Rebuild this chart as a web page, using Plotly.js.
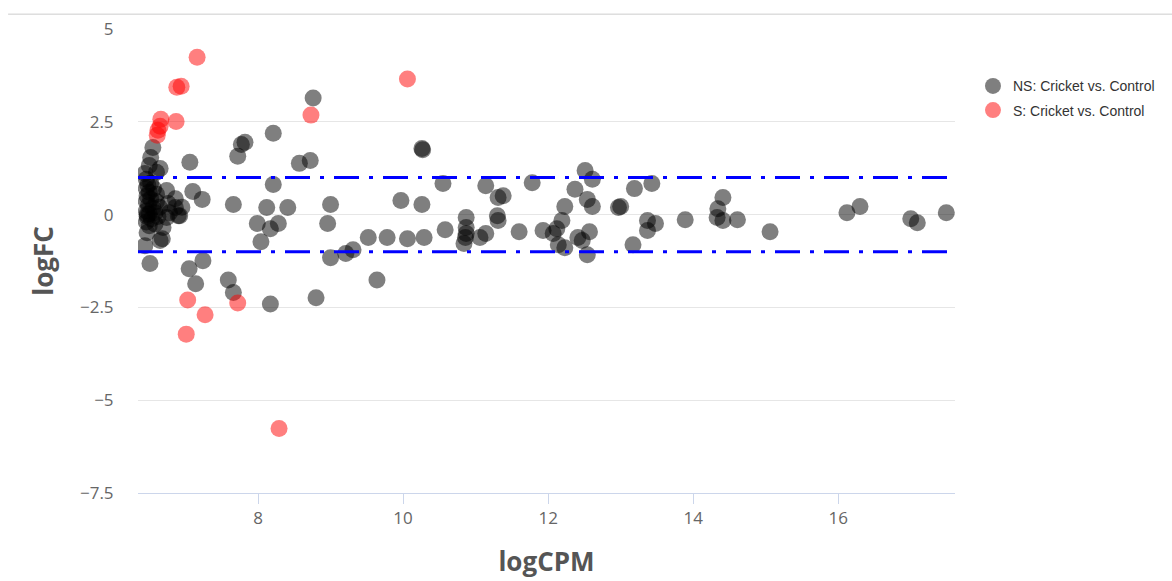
<!DOCTYPE html>
<html>
<head>
<meta charset="utf-8">
<script src="https://cdn.plot.ly/plotly-3.0.1.min.js"></script>
<style>html,body{margin:0;padding:0;background:#fff;}#chart{width:1172px;height:581px;}</style>
</head>
<body>
<div id="chart"></div>
<script>
// NS: Cricket vs. Control (non-significant)
var nsLogCPM = [
  8.76, 8.21, 7.82, 7.77, 7.72, 7.06, 8.57, 8.72, 6.55, 6.52, 6.50, 6.65, 6.44, 6.60,
  8.21, 7.10, 7.23, 7.66, 8.12, 8.41, 9.00, 6.74, 6.86, 7.99, 8.17, 8.28, 8.04, 8.96,
  9.00, 6.51, 7.24, 7.05, 7.14, 7.59, 7.66, 8.17, 8.80,
  6.90, 6.47, 6.65, 6.44, 6.76, 6.86, 6.92, 6.74, 6.69, 6.68, 6.78, 6.95,
  6.46, 6.48, 6.46, 6.50, 6.47, 6.52, 6.46, 6.49, 6.55, 6.46, 6.50, 6.47, 6.53, 6.46,
  6.58, 6.60, 6.56, 6.62, 6.58, 6.50, 6.47, 6.52, 6.60, 6.64,
  10.26, 10.27, 9.21, 9.31, 9.52, 9.78, 10.06, 10.29, 9.97, 10.26, 9.64, 10.55, 10.58,
  10.87, 10.87, 10.87, 10.84, 10.86, 11.06, 11.14, 11.14, 11.31, 11.38, 11.30, 11.31,
  11.60, 11.78, 11.93, 12.07, 12.12, 12.19, 12.23, 12.14, 12.23, 12.37, 12.51, 12.61,
  12.54, 12.61, 12.41, 12.47, 12.57, 12.54,
  12.97, 13.00, 13.19, 13.17, 13.37, 13.48, 13.37, 13.43,
  13.89, 14.41, 14.34, 14.33, 14.41, 14.61, 15.06, 16.12, 16.30, 17.00, 17.09, 17.49
];
var nsLogFC = [
  3.14, 2.19, 1.95, 1.89, 1.57, 1.41, 1.38, 1.46, 1.81, 1.54, 1.32, 1.24, 1.11, 1.14,
  0.81, 0.62, 0.41, 0.27, 0.19, 0.19, 0.27, 0.65, 0.43, -0.24, -0.38, -0.24, -0.73, -0.24,
  -1.16, -1.32, -1.24, -1.46, -1.86, -1.76, -2.10, -2.41, -2.24,
  -0.03, -0.49, -0.70, -0.84, 0.30, 0.19, -0.03, -0.08, -0.35, -0.65, 0.05, 0.20,
  0.95, 0.80, 0.70, 0.60, 0.50, 0.42, 0.35, 0.25, 0.18, 0.10, 0.02, -0.05, -0.12, -0.20,
  0.05, 0.35, 0.70, -0.05, -0.25, -0.30, 0.00, 0.85, 0.55, 0.20,
  1.78, 1.75, -1.05, -0.95, -0.62, -0.62, -0.65, -0.62, 0.38, 0.27, -1.76, 0.84, -0.41,
  -0.08, -0.35, -0.51, -0.78, -0.62, -0.62, -0.51, 0.78, 0.46, 0.51, -0.03, -0.16,
  -0.46, 0.86, -0.43, -0.51, -0.38, -0.16, 0.22, -0.81, -0.89, 0.68, 1.19, 0.95,
  0.41, 0.22, -0.62, -0.70, -0.46, -1.08,
  0.19, 0.22, 0.70, -0.81, -0.16, -0.24, -0.43, 0.84,
  -0.14, 0.46, 0.16, -0.08, -0.16, -0.14, -0.46, 0.05, 0.22, -0.11, -0.22, 0.05
];
// S: Cricket vs. Control (significant)
var sLogCPM = [7.16, 6.88, 6.94, 6.66, 6.65, 6.62, 6.61, 6.87, 8.73, 10.06, 7.03, 7.27, 7.01, 7.72, 8.29];
var sLogFC  = [4.24, 3.43, 3.46, 2.57, 2.38, 2.27, 2.14, 2.51, 2.68, 3.65, -2.30, -2.70, -3.22, -2.38, -5.76];

var thresholds = [1, -1];
var yTickVals = [5, 2.5, 0, -2.5, -5, -7.5];
var yTickText = ['5', '2.5', '0', '\u22122.5', '\u22125', '\u22127.5'];
var xTickVals = [8, 10, 12, 14, 16];

var traces = [
  {
    type: 'scatter', mode: 'markers', name: 'NS: Cricket vs. Control', legendgroup: 'ns',
    x: nsLogCPM, y: nsLogFC,
    marker: {size: 17, color: 'rgba(0,0,0,0.5)', line: {width: 0}},
    hoverinfo: 'x+y'
  },
  {
    type: 'scatter', mode: 'markers', name: 'S: Cricket vs. Control', legendgroup: 's',
    x: sLogCPM, y: sLogFC,
    marker: {size: 17, color: 'rgba(255,0,0,0.5)', line: {width: 0}},
    hoverinfo: 'x+y'
  }
];

var shapes = thresholds.map(function (t) {
  return {
    type: 'line', xref: 'paper', yref: 'y', x0: 0, x1: 1, y0: t, y1: t,
    line: {color: '#0000ff', width: 3, dash: '25px,10px,4px,10px'}
  };
});
shapes.push({
  type: 'line', xref: 'paper', yref: 'paper', x0: -0.159, x1: 1.27, y0: 1.032, y1: 1.032,
  line: {color: '#cccccc', width: 1}
});

var layout = {
  width: 1172, height: 581,
  margin: {l: 138, r: 217, t: 29, b: 88},
  paper_bgcolor: '#ffffff', plot_bgcolor: '#ffffff',
  font: {family: '"Open Sans", sans-serif', color: '#666666'},
  showlegend: true,
  legend: {
    x: 1.022, y: 0.911, xanchor: 'left', yanchor: 'top',
    traceorder: 'grouped', tracegroupgap: 3,
    font: {family: '"Liberation Sans", Arial, sans-serif', size: 14, color: '#333333'},
    bgcolor: 'rgba(0,0,0,0)'
  },
  xaxis: {
    range: [6.345, 17.61],
    tickvals: xTickVals,
    ticks: 'outside', ticklen: 10, tickcolor: '#ccd6eb', tickwidth: 1,
    showline: true, linecolor: '#ccd6eb', linewidth: 1,
    showgrid: false, zeroline: false,
    tickfont: {size: 17, color: '#666666'},
    title: {text: 'logCPM', font: {size: 26, color: '#555555', family: '"Open Sans", sans-serif', weight: 'bold'}, standoff: 24},
    automargin: false
  },
  yaxis: {
    range: [-7.5, 5],
    tickvals: yTickVals, ticktext: yTickText,
    ticks: 'outside', ticklen: 20, tickcolor: 'rgba(0,0,0,0)',
    showline: false, showgrid: true, gridcolor: '#e6e6e6', gridwidth: 1,
    zeroline: false,
    tickfont: {size: 17, color: '#666666'},
    title: {text: 'logFC', font: {size: 26, color: '#555555', family: '"Open Sans", sans-serif', weight: 'bold'}, standoff: 18},
    automargin: false
  },
  shapes: shapes
};

Plotly.newPlot('chart', traces, layout, {displayModeBar: false, staticPlot: false});
</script>
</body>
</html>
